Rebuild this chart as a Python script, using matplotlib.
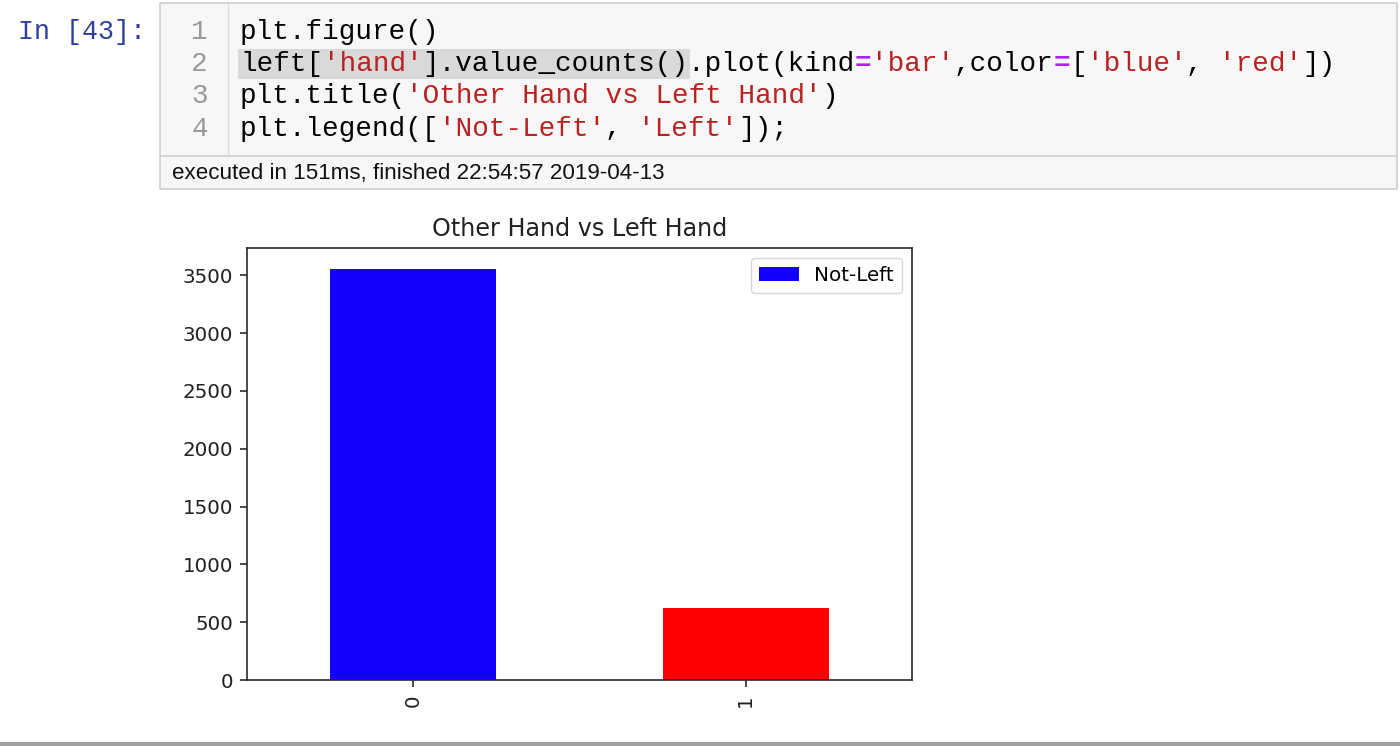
import matplotlib
matplotlib.use("Agg")
import matplotlib.pyplot as plt
from matplotlib.patches import Rectangle
from matplotlib.lines import Line2D

# ---- data ----
categories = ["0", "1"]
counts = [3558, 623]
bar_colors = ["#1400ff", "#ff0000"]
legend_labels = ["Not-Left", "Left"]
title = "Other Hand vs Left Hand"

code_lines = [
    [("plt.figure()", "k")],
    [("left[", "k"), ("'hand'", "s"), ("].value_counts().plot(kind", "k"), ("=", "o"),
     ("'bar'", "s"), (",color", "k"), ("=", "o"), ("[", "k"), ("'blue'", "s"), (", ", "k"),
     ("'red'", "s"), ("])", "k")],
    [("plt.title(", "k"), ("'Other Hand vs Left Hand'", "s"), (")", "k")],
    [("plt.legend([", "k"), ("'Not-Left'", "s"), (", ", "k"), ("'Left'", "s"), ("]);", "k")],
]
prompt = "In [43]:"
exec_info = "executed in 151ms, finished 22:54:57 2019-04-13"

W, H = 1400, 746
fig = plt.figure(figsize=(W / 100, H / 100), dpi=100)
fig.patch.set_facecolor("white")


def fx(x):
    return x / W


def fy(y):
    return 1 - y / H


def rect(x0, y0, x1, y1, **kw):
    fig.add_artist(Rectangle((fx(x0), fy(y1)), fx(x1) - fx(x0), fy(y0) - fy(y1),
                             transform=fig.transFigure, **kw))


def line(x0, y0, x1, y1, **kw):
    fig.add_artist(Line2D([fx(x0), fx(x1)], [fy(y0), fy(y1)], transform=fig.transFigure, **kw))


# ---- notebook cell chrome ----
rect(160, 3, 1397, 189, facecolor="#f7f7f7", edgecolor="#cfcfcf", linewidth=1.2)
line(160, 155.5, 1397, 155.5, color="#cfcfcf", linewidth=1.2)
line(228, 4, 228, 155, color="#dddddd", linewidth=1.0)
rect(238, 49, 690, 79, facecolor="#d9d9d9", edgecolor="none")

mono = "Liberation Mono"
code_fs = 19.9
char_w = 16.6
line_y = [32, 64, 96, 128.5]
colmap = {"k": "#000000", "s": "#ba2121", "o": "#aa22ff"}

fig.text(fx(18), fy(32), prompt, family=mono, fontsize=19.2, color="#303f9f",
         va="center", ha="left")
for i, toks in enumerate(code_lines):
    fig.text(fx(208), fy(line_y[i]), str(i + 1), family=mono, fontsize=code_fs,
             color="#999999", va="center", ha="right")
    col = 0
    for txt, kind in toks:
        fig.text(fx(240 + col * char_w), fy(line_y[i]), txt, family=mono, fontsize=code_fs,
                 color=colmap[kind], va="center", ha="left",
                 fontweight="bold" if kind == "o" else "normal")
        col += len(txt)

fig.text(fx(172), fy(173), exec_info, family="Liberation Sans", fontsize=16.1,
         color="#111111", va="center", ha="left")

rect(0, 742, W, 746, facecolor="#a0a0a0", edgecolor="none")

# ---- chart ----
pt = 1.99 * 72 / 100  # scale of the original 72-dpi figure
ax = fig.add_axes([fx(247), fy(680), fx(912) - fx(247), fy(248) - fy(680)])
positions = list(range(len(categories)))
bars = ax.bar(positions, counts, width=0.5, color=bar_colors)
ax.set_xlim(-0.5, len(categories) - 0.5)
ax.set_xticks(positions)
ax.set_xticklabels(categories, rotation=90)
ax.set_yticks([0, 500, 1000, 1500, 2000, 2500, 3000, 3500])
ax.set_title(title, fontsize=12 * pt, pad=6 * pt, color="#222222")
for sp in ax.spines.values():
    sp.set_linewidth(0.8 * pt)
    sp.set_color("#222222")
ax.tick_params(labelsize=10 * pt, length=3.5 * pt, width=0.8 * pt, pad=3.5 * pt,
               colors="#222222")
ax.legend([bars], legend_labels[:1], loc="upper right", fontsize=10 * pt)

fig.savefig("out.png", dpi=100)
